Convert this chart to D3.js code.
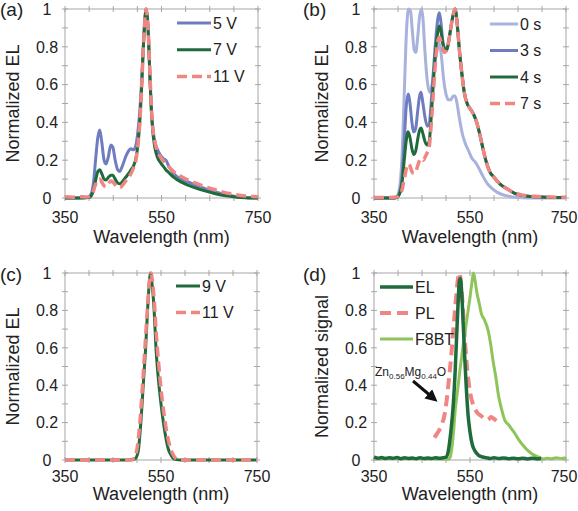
<!DOCTYPE html>
<html><head><meta charset="utf-8">
<script src="https://cdn.jsdelivr.net/npm/d3@7"></script>
<style>body{margin:0;background:#fff}svg{display:block;font-family:"Liberation Sans",Arial,sans-serif}</style>
</head><body><svg id="chart" width="578" height="511"></svg>
<script>
// ---------- data ----------
const xTicks = [350, 550, 750];
const xMinor = [350, 400, 450, 500, 550, 600, 650, 700, 750];
const yTicks = [0, 0.2, 0.4, 0.6, 0.8, 1];
const yTickLabels = ["0", "0.2", "0.4", "0.6", "0.8", "1"];
const yMinor = [0, 0.1, 0.2, 0.3, 0.4, 0.5, 0.6, 0.7, 0.8, 0.9, 1];

// (a) voltage dependence
const a5V = [[350,0],[380,0],[398,0.003],[404,0.02],[409,0.08],[414,0.22],[418,0.32],[422,0.36],[426,0.3],[431,0.2],[435,0.18],[440,0.22],[445,0.28],[449,0.27],[454,0.2],[459,0.15],[463,0.14],[469,0.17],[476,0.22],[482,0.25],[487,0.26],[492,0.255],[497,0.28],[501,0.35],[505,0.46],[509,0.62],[513,0.84],[516,0.96],[518,1.0],[520,0.97],[523,0.85],[526,0.64],[529,0.47],[532,0.37],[536,0.3],[541,0.26],[547,0.23],[553,0.21],[559,0.2],[565,0.17],[575,0.13],[590,0.1],[605,0.085],[620,0.068],[640,0.05],[660,0.033],[680,0.02],[700,0.01],[715,0.004],[730,0.001],[750,0]];
const a7V = [[350,0],[380,0],[398,0.002],[404,0.01],[409,0.04],[414,0.1],[418,0.14],[422,0.15],[426,0.13],[431,0.1],[435,0.095],[440,0.11],[445,0.12],[449,0.12],[454,0.1],[459,0.08],[464,0.075],[470,0.09],[476,0.11],[482,0.13],[487,0.15],[492,0.17],[497,0.21],[501,0.28],[505,0.4],[509,0.6],[513,0.83],[516,0.96],[518,1.0],[520,0.97],[523,0.85],[526,0.64],[529,0.46],[532,0.35],[536,0.27],[541,0.22],[547,0.19],[553,0.17],[559,0.15],[565,0.135],[575,0.11],[590,0.085],[605,0.068],[620,0.054],[640,0.038],[660,0.024],[680,0.013],[700,0.006],[715,0.002],[730,0],[750,0]];
const a11V = [[350,0.006],[365,0.004],[380,0.007],[395,0.005],[402,0.01],[408,0.03],[413,0.07],[418,0.095],[422,0.1],[426,0.085],[431,0.065],[435,0.06],[440,0.075],[445,0.09],[449,0.085],[454,0.07],[459,0.058],[464,0.055],[470,0.07],[476,0.09],[482,0.11],[487,0.13],[492,0.16],[497,0.2],[501,0.28],[505,0.4],[509,0.6],[513,0.83],[516,0.96],[518,1.0],[520,0.97],[523,0.86],[526,0.66],[529,0.48],[532,0.37],[536,0.3],[541,0.25],[547,0.22],[553,0.2],[559,0.18],[565,0.165],[575,0.14],[590,0.115],[605,0.095],[620,0.08],[640,0.06],[660,0.045],[680,0.03],[700,0.02],[715,0.013],[730,0.01],[750,0.006]];

// (b) time dependence
const b0s = [[350,0],[390,0],[398,0.01],[403,0.05],[408,0.2],[413,0.55],[418,0.9],[422,1.0],[426,0.99],[430,0.88],[434,0.78],[437,0.77],[441,0.85],[445,0.96],[449,1.0],[452,0.95],[456,0.78],[461,0.62],[466,0.56],[471,0.6],[476,0.7],[481,0.78],[486,0.82],[490,0.76],[495,0.63],[500,0.55],[505,0.52],[510,0.52],[515,0.54],[519,0.54],[523,0.5],[528,0.42],[534,0.34],[540,0.29],[547,0.25],[554,0.21],[561,0.19],[568,0.16],[576,0.12],[585,0.08],[595,0.052],[607,0.03],[620,0.016],[635,0.007],[650,0.002],[670,0],[750,0]];
const b3s = [[350,0],[390,0],[398,0.005],[403,0.025],[408,0.1],[413,0.3],[417,0.48],[421,0.55],[425,0.5],[429,0.4],[433,0.35],[437,0.37],[441,0.46],[445,0.54],[448,0.56],[452,0.5],[456,0.43],[461,0.38],[465,0.39],[469,0.5],[474,0.68],[479,0.85],[483,0.95],[486,0.98],[489,0.94],[493,0.84],[497,0.79],[501,0.78],[505,0.82],[510,0.9],[515,0.97],[519,1.0],[523,0.93],[528,0.78],[533,0.66],[538,0.56],[544,0.5],[551,0.47],[558,0.44],[564,0.4],[571,0.33],[578,0.25],[584,0.19],[591,0.14],[600,0.11],[612,0.075],[626,0.05],[643,0.025],[660,0.013],[690,0.006],[720,0.003],[750,0.002]];
const b4s = [[350,0],[390,0],[398,0.004],[403,0.02],[408,0.07],[413,0.2],[417,0.3],[421,0.35],[425,0.32],[429,0.26],[433,0.23],[437,0.25],[441,0.31],[445,0.36],[448,0.37],[452,0.34],[456,0.3],[461,0.28],[465,0.3],[469,0.42],[474,0.62],[479,0.8],[483,0.88],[486,0.91],[489,0.89],[493,0.82],[497,0.79],[501,0.78],[505,0.82],[510,0.9],[515,0.97],[519,1.0],[523,0.93],[528,0.78],[533,0.66],[538,0.56],[544,0.5],[551,0.47],[558,0.44],[564,0.4],[571,0.33],[578,0.25],[584,0.19],[591,0.14],[600,0.11],[612,0.075],[626,0.05],[643,0.025],[660,0.013],[690,0.006],[720,0.003],[750,0.002]];
const b7s = [[350,0.003],[370,0.002],[390,0.004],[398,0.006],[403,0.015],[408,0.04],[413,0.1],[417,0.15],[421,0.18],[425,0.17],[429,0.14],[433,0.13],[437,0.14],[441,0.17],[445,0.2],[449,0.21],[453,0.2],[457,0.22],[461,0.24],[465,0.27],[469,0.38],[474,0.57],[479,0.75],[483,0.83],[486,0.85],[489,0.83],[493,0.79],[497,0.77],[501,0.78],[505,0.82],[510,0.9],[515,0.97],[519,1.0],[523,0.93],[528,0.78],[533,0.66],[538,0.56],[544,0.5],[551,0.47],[558,0.44],[564,0.4],[571,0.33],[578,0.25],[584,0.19],[591,0.14],[600,0.11],[612,0.075],[626,0.05],[643,0.026],[660,0.015],[690,0.008],[720,0.005],[750,0.004]];

// (c) ZnMgO device
const c9V = [[350,0],[480,0],[495,0.005],[502,0.04],[508,0.2],[513,0.4],[518,0.6],[522,0.8],[526,0.96],[528,1.0],[531,0.95],[535,0.83],[540,0.58],[545,0.42],[550,0.3],[555,0.2],[560,0.12],[565,0.06],[570,0.03],[575,0.01],[582,0.002],[590,0],[750,0]];
const c11V = [[350,0],[488,0],[494,0.01],[500,0.06],[506,0.2],[512,0.42],[517,0.62],[522,0.82],[526,0.96],[529,1.0],[532,0.96],[536,0.85],[540,0.68],[545,0.52],[550,0.38],[555,0.27],[560,0.18],[565,0.11],[570,0.06],[575,0.03],[580,0.01],[586,0],[750,0]];

// (d) comparison
const dEL = [[350,0.015],[358,0.01],[366,0.013],[374,0.008],[382,0.012],[390,0.009],[398,0.013],[406,0.007],[414,0.012],[422,0.008],[430,0.011],[438,0.007],[446,0.012],[454,0.008],[462,0.011],[470,0.008],[478,0.012],[486,0.009],[494,0.012],[500,0.015],[505,0.05],[510,0.15],[515,0.29],[519,0.47],[522,0.65],[525,0.83],[528,0.96],[530,0.97],[533,0.88],[536,0.72],[539,0.55],[542,0.4],[546,0.24],[550,0.15],[555,0.08],[560,0.05],[568,0.025],[576,0.016],[584,0.012],[592,0.008],[600,0.012],[610,0.008],[620,0.011],[630,0.007],[640,0.01],[650,0.007],[660,0.01],[670,0.006],[680,0.009],[690,0.006],[698,0.008]];
const dPL = [[476,0.12],[481,0.14],[486,0.16],[491,0.19],[496,0.23],[501,0.31],[506,0.43],[511,0.56],[516,0.72],[521,0.87],[525,0.97],[528,1.0],[531,0.95],[535,0.82],[540,0.62],[546,0.44],[551,0.35],[556,0.3],[561,0.27],[566,0.25],[571,0.24],[576,0.23],[581,0.22],[587,0.215],[594,0.23],[600,0.22],[605,0.21]];
const dF8BT = [[350,0.012],[362,0.006],[374,0.011],[386,0.007],[398,0.01],[410,0.006],[422,0.01],[434,0.007],[446,0.009],[458,0.006],[470,0.008],[482,0.005],[494,0.006],[503,0.004],[508,0.01],[512,0.06],[516,0.16],[519,0.26],[524,0.37],[529,0.48],[534,0.58],[540,0.69],[545,0.78],[550,0.87],[554,0.95],[557,1.0],[560,0.97],[564,0.9],[569,0.84],[574,0.78],[580,0.75],[588,0.69],[593,0.62],[598,0.53],[604,0.44],[609,0.35],[616,0.27],[623,0.21],[630,0.19],[637,0.165],[644,0.14],[651,0.11],[660,0.08],[668,0.057],[678,0.035],[689,0.02],[698,0.01],[703,0.005],[710,0.01],[720,0.007],[730,0.012],[740,0.008],[750,0.012]];

// ---------- styles ----------
const BLUE = "#6f7cc0", LBLUE = "#a9b2dc", DGREEN = "#1f6b3b", RED = "#ef8682", LGREEN = "#8fc45a";
const AXIS = "#a6a6a6", TXT = "#222";

const panels = [
  {tag:"(a)", tagX:0, tagY:16, l:65, t:9, r:258, b:198, ytitle:"Normalized EL", xlabDy:25, xtitleDy:45,
   series:[{name:"5 V", data:a5V, color:BLUE, w:3},
           {name:"7 V", data:a7V, color:DGREEN, w:3},
           {name:"11 V", data:a11V, color:RED, w:3.5, dash:"10,5"}],
   leg:{x1:177, x2:211, y0:23, dy:26.7}},
  {tag:"(b)", tagX:303, tagY:16, l:374, t:9, r:566, b:198, ytitle:"Normalized EL", xlabDy:25, xtitleDy:45,
   series:[{name:"0 s", data:b0s, color:LBLUE, w:3},
           {name:"3 s", data:b3s, color:BLUE, w:3},
           {name:"4 s", data:b4s, color:DGREEN, w:3},
           {name:"7 s", data:b7s, color:RED, w:3.5, dash:"10,5"}],
   leg:{x1:490, x2:518, y0:24, dy:26.5}},
  {tag:"(c)", tagX:0, tagY:281, l:65, t:273, r:257, b:460, ytitle:"Normalized EL", xlabDy:22, xtitleDy:40,
   series:[{name:"9 V", data:c9V, color:DGREEN, w:3},
           {name:"11 V", data:c11V, color:RED, w:3.5, dash:"10,5"}],
   leg:{x1:176, x2:200, y0:286, dy:26.5}},
  {tag:"(d)", tagX:303, tagY:281, l:374, t:273, r:566, b:460, ytitle:"Normalized signal", xlabDy:22, xtitleDy:40,
   series:[{name:"EL", data:dEL, color:DGREEN, w:3.5, order:2},
           {name:"PL", data:dPL, color:RED, w:4, dash:"11,6", order:0},
           {name:"F8BT", data:dF8BT, color:LGREEN, w:3, order:1}],
   leg:{x1:380, x2:413, y0:287, dy:26}}
];

const svg = d3.select("#chart");
svg.append("rect").attr("width",578).attr("height",511).attr("fill","#fff");

function drawPanel(p) {
  const x = d3.scaleLinear().domain([350, 750]).range([p.l, p.r]);
  const y = d3.scaleLinear().domain([0, 1]).range([p.b, p.t]);
  const g = svg.append("g");

  // frame
  g.append("rect").attr("x", p.l).attr("y", p.t).attr("width", p.r - p.l).attr("height", p.b - p.t)
    .attr("fill", "none").attr("stroke", AXIS).attr("stroke-width", 1);
  // ticks (cross style)
  const tk = 3;
  yMinor.forEach(v => {
    g.append("line").attr("x1", p.l - tk).attr("x2", p.l + tk).attr("y1", y(v)).attr("y2", y(v)).attr("stroke", AXIS);
    g.append("line").attr("x1", p.r - tk).attr("x2", p.r + tk).attr("y1", y(v)).attr("y2", y(v)).attr("stroke", AXIS);
  });
  xMinor.forEach(v => {
    g.append("line").attr("y1", p.b - tk).attr("y2", p.b + tk).attr("x1", x(v)).attr("x2", x(v)).attr("stroke", AXIS);
    g.append("line").attr("y1", p.t - tk).attr("y2", p.t + tk).attr("x1", x(v)).attr("x2", x(v)).attr("stroke", AXIS);
  });
  // tick labels
  yTicks.forEach((v, i) => {
    g.append("text").attr("x", p.l - 18).attr("y", y(v)).attr("dy", "0.36em")
      .attr("text-anchor", "middle").attr("font-size", 16).attr("fill", TXT).text(yTickLabels[i]);
  });
  xTicks.forEach(v => {
    g.append("text").attr("x", Math.min(x(v), 564)).attr("y", p.b + p.xlabDy)
      .attr("text-anchor", "middle").attr("font-size", 16).attr("fill", TXT).text(v);
  });
  // axis titles
  g.append("text").attr("x", (p.l + p.r) / 2).attr("y", p.b + p.xtitleDy)
    .attr("text-anchor", "middle").attr("font-size", 18).attr("fill", TXT).text("Wavelength (nm)");
  g.append("text").attr("transform", `translate(${p.l - 46},${(p.t + p.b) / 2}) rotate(-90)`)
    .attr("text-anchor", "middle").attr("font-size", 18).attr("fill", TXT).text(p.ytitle);
  // panel tag
  g.append("text").attr("x", p.tagX).attr("y", p.tagY).attr("font-size", 19).attr("fill", TXT).text(p.tag);

  // lines
  const line = d3.line().x(d => x(d[0])).y(d => y(d[1])).curve(d3.curveMonotoneX);
  p.series.forEach((s, i) => { if (s.order === undefined) s.order = i; });
  p.series.slice().sort((a, b) => a.order - b.order).forEach(s => {
    g.append("path").attr("d", line(s.data)).attr("fill", "none")
      .attr("stroke", s.color).attr("stroke-width", s.w)
      .attr("stroke-linejoin", "round")
      .attr("stroke-dasharray", s.dash || null);
  });

  // legend
  p.series.forEach((s, i) => {
    const ly = p.leg.y0 + i * p.leg.dy;
    g.append("line").attr("x1", p.leg.x1).attr("x2", p.leg.x2).attr("y1", ly).attr("y2", ly)
      .attr("stroke", s.color).attr("stroke-width", s.w).attr("stroke-dasharray", s.dash || null);
    g.append("text").attr("x", p.leg.x2 + 2).attr("y", ly).attr("dy", "0.36em")
      .attr("font-size", 16).attr("fill", TXT).text(s.name);
  });
}
panels.forEach(drawPanel);

// annotation in (d)
const ann = svg.append("text").attr("x", 375).attr("y", 376).attr("font-size", 12).attr("fill", TXT);
ann.append("tspan").text("Zn");
ann.append("tspan").attr("font-size", 8).attr("dy", 3).text("0.56");
ann.append("tspan").attr("dy", -3).text("Mg");
ann.append("tspan").attr("font-size", 8).attr("dy", 3).text("0.44");
ann.append("tspan").attr("dy", -3).text("O");
svg.append("defs").append("marker").attr("id", "arr").attr("viewBox", "0 0 10 10")
  .attr("refX", 4).attr("refY", 5).attr("markerWidth", 4).attr("markerHeight", 4).attr("orient", "auto")
  .append("path").attr("d", "M0,0 L10,5 L0,10 z").attr("fill", "#111");
svg.append("line").attr("x1", 413).attr("y1", 381).attr("x2", 432).attr("y2", 397)
  .attr("stroke", "#111").attr("stroke-width", 3).attr("marker-end", "url(#arr)");
</script>
</body></html>
